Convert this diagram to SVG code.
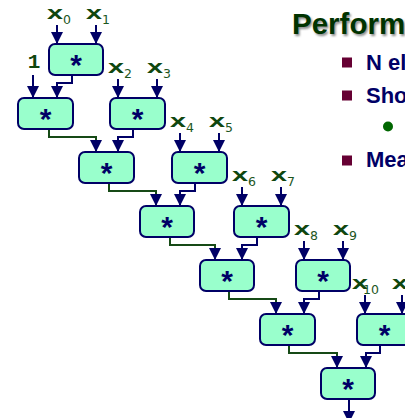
<svg xmlns="http://www.w3.org/2000/svg" width="405" height="418" viewBox="0 0 405 418">
<defs>
<style>
.box rect{fill:#99ffcc;stroke:#000066;stroke-width:2}
.box text{font-family:"Liberation Sans",Arial,sans-serif;font-weight:bold;font-size:30px;fill:#000066;text-anchor:middle}
.lx{font-family:"Liberation Mono","Courier New",monospace;font-weight:bold;font-size:19px;fill:#0f470f}
.ls{font-family:"DejaVu Sans",Verdana,sans-serif;font-size:12.5px;fill:#1d561d}
.one{font-family:"Liberation Mono","Courier New",monospace;font-weight:bold;font-size:21px;fill:#0f470f;text-anchor:middle}
.n{fill:none;stroke:#000066;stroke-width:2;marker-end:url(#ah)}
.g{fill:none;stroke:#164a16;stroke-width:2;marker-end:url(#ah)}
.bt{font-family:"Liberation Sans",Arial,sans-serif;font-weight:bold;font-size:22px;fill:#000066}
.sq{fill:#660033}
</style>
<marker id="ah" viewBox="0 0 12 12" refX="12" refY="6" markerWidth="12" markerHeight="12" markerUnits="userSpaceOnUse" orient="auto">
<path d="M0,0 L12,6 L0,12 z" fill="#000066"/>
</marker>
<filter id="sh" x="-10%" y="-20%" width="130%" height="150%">
<feGaussianBlur stdDeviation="0.8"/>
</filter>
</defs>

<g id="title">
<text x="293.5" y="35.5" font-family="Liberation Sans,Arial,sans-serif" font-weight="bold" font-size="29.5" fill="#8a8a8a" filter="url(#sh)">Perform</text>
<text x="292" y="34" font-family="Liberation Sans,Arial,sans-serif" font-weight="bold" font-size="29.5" fill="#003300">Perform</text>
</g>
<g id="bullets">
<rect class="sq" x="342" y="57.5" width="10" height="10"/>
<text class="bt" x="366" y="70">N el</text>
<rect class="sq" x="342" y="90.5" width="10" height="10"/>
<text class="bt" x="366" y="103">Sho</text>
<circle cx="388" cy="126.5" r="5" fill="#006600"/>
<rect class="sq" x="342" y="155.5" width="10" height="10"/>
<text class="bt" x="366" y="167">Mea</text>
</g>

<g id="connectors">
<path class="n" d="M57,25V44"/>
<path class="n" d="M96,25V44"/>
<path class="n" d="M33,75V98"/>
<path class="n" d="M118,79V98"/>
<path class="n" d="M157,79V98"/>
<path class="n" d="M180,133V152"/>
<path class="n" d="M219,133V152"/>
<path class="n" d="M242,187V206"/>
<path class="n" d="M281,187V206"/>
<path class="n" d="M304,241V260"/>
<path class="n" d="M343,241V260"/>
<path class="n" d="M365,295V314"/>
<path class="n" d="M402,295V314"/>
<path class="n" d="M72,75V83H57V98"/>
<path class="g" d="M49,129V137H96V152"/>
<path class="n" d="M133,129V137H118V152"/>
<path class="g" d="M109,183V191H156V206"/>
<path class="n" d="M195,183V191H180V206"/>
<path class="g" d="M170,237V245H215V260"/>
<path class="n" d="M257,237V245H242V260"/>
<path class="g" d="M229,291V299H276V314"/>
<path class="n" d="M319,291V299H304V314"/>
<path class="g" d="M289,345V353H337V368"/>
<path class="n" d="M380,345V353H366V368"/>
<path class="n" d="M349,399V423"/>
</g>

<g id="labels">
<text class="lx" x="46.5" y="19" textLength="17" lengthAdjust="spacingAndGlyphs">x</text><text class="ls" x="63" y="24">0</text>
<text class="lx" x="85.5" y="19" textLength="17" lengthAdjust="spacingAndGlyphs">x</text><text class="ls" x="102" y="24">1</text>
<text class="one" x="34" y="68">1</text>
<text class="lx" x="107.5" y="73" textLength="17" lengthAdjust="spacingAndGlyphs">x</text><text class="ls" x="124" y="78">2</text>
<text class="lx" x="146.5" y="73" textLength="17" lengthAdjust="spacingAndGlyphs">x</text><text class="ls" x="163" y="78">3</text>
<text class="lx" x="169.5" y="127" textLength="17" lengthAdjust="spacingAndGlyphs">x</text><text class="ls" x="186" y="132">4</text>
<text class="lx" x="208.5" y="127" textLength="17" lengthAdjust="spacingAndGlyphs">x</text><text class="ls" x="225" y="132">5</text>
<text class="lx" x="231.5" y="181" textLength="17" lengthAdjust="spacingAndGlyphs">x</text><text class="ls" x="248" y="186">6</text>
<text class="lx" x="270.5" y="181" textLength="17" lengthAdjust="spacingAndGlyphs">x</text><text class="ls" x="287" y="186">7</text>
<text class="lx" x="293.5" y="235" textLength="17" lengthAdjust="spacingAndGlyphs">x</text><text class="ls" x="310" y="240">8</text>
<text class="lx" x="332.5" y="235" textLength="17" lengthAdjust="spacingAndGlyphs">x</text><text class="ls" x="349" y="240">9</text>
<text class="lx" x="351.5" y="289" textLength="17" lengthAdjust="spacingAndGlyphs">x</text><text class="ls" x="363" y="294">10</text>
<text class="lx" x="391.5" y="289" textLength="17" lengthAdjust="spacingAndGlyphs">x</text>
</g>

<g id="nodeA" class="box"><rect x="49" y="44" width="54" height="31" rx="6"/><text x="76" y="75">*</text></g>
<g id="nodeB" class="box"><rect x="18" y="98" width="55" height="31" rx="6"/><text x="45.5" y="129">*</text></g>
<g id="nodeC" class="box"><rect x="110" y="98" width="55" height="31" rx="6"/><text x="137.5" y="129">*</text></g>
<g id="nodeD" class="box"><rect x="79" y="152" width="55" height="31" rx="6"/><text x="106.5" y="183">*</text></g>
<g id="nodeE" class="box"><rect x="172" y="152" width="55" height="31" rx="6"/><text x="199.5" y="183">*</text></g>
<g id="nodeF" class="box"><rect x="140" y="206" width="54" height="31" rx="6"/><text x="167" y="237">*</text></g>
<g id="nodeG" class="box"><rect x="234" y="206" width="55" height="31" rx="6"/><text x="261.5" y="237">*</text></g>
<g id="nodeH" class="box"><rect x="200" y="260" width="54" height="31" rx="6"/><text x="227" y="291">*</text></g>
<g id="nodeI" class="box"><rect x="296" y="260" width="54" height="31" rx="6"/><text x="323" y="291">*</text></g>
<g id="nodeJ" class="box"><rect x="260" y="314" width="55" height="31" rx="6"/><text x="287.5" y="345">*</text></g>
<g id="nodeK" class="box"><rect x="357" y="314" width="55" height="31" rx="6"/><text x="384.5" y="345">*</text></g>
<g id="nodeL" class="box"><rect x="321" y="368" width="54" height="31" rx="6"/><text x="348" y="399">*</text></g>
</svg>
